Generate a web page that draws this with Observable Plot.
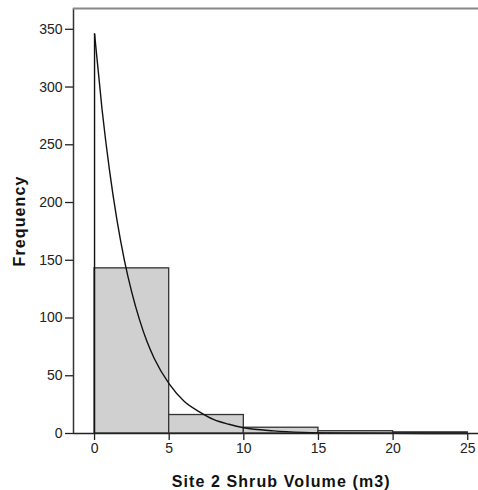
<!DOCTYPE html>
<html>
<head>
<meta charset="utf-8">
<script src="https://cdn.jsdelivr.net/npm/d3@7"></script>
<script src="https://cdn.jsdelivr.net/npm/@observablehq/plot@0.6"></script>
<style>
  html, body { margin: 0; padding: 0; background: #fff; }
  #chart svg { display: block; }
</style>
</head>
<body>
<div id="chart"></div>
<script>
// Histogram bins (m3) and frequencies
const binStart = [0, 5, 10, 15, 20];
const binEnd = [5, 10, 15, 20, 25];
const counts = [143, 16, 5, 2, 1];

// Fitted exponential curve, sampled along the x axis
const curveX = [0, 0.5, 1, 1.5, 2, 2.5, 3, 3.5, 4, 5, 6, 7, 8, 9, 10, 12, 14, 17, 20, 25];
const curveY = [346, 281, 228, 185, 150, 122, 99, 80, 65, 43, 28, 19, 12, 8, 5, 2.3, 1, 0.3, 0.1, 0];

// Axis ticks and titles
const xTicks = [0, 5, 10, 15, 20, 25];
const yTicks = [0, 50, 100, 150, 200, 250, 300, 350];
const xTitle = "Site 2 Shrub Volume (m3)";
const yTitle = "Frequency";

const bars = binStart.map((b, i) => ({x1: b, x2: binEnd[i], count: counts[i]}));
const curve = curveX.map((x, i) => ({x, y: curveY[i]}));

const xDomain = [-1.41, 25.72];
const yDomain = [0, 368];

const chart = Plot.plot({
  width: 478,
  height: 490,
  marginLeft: 73,
  marginRight: 0,
  marginTop: 8,
  marginBottom: 57,
  style: {fontFamily: "'Liberation Sans', Arial, sans-serif", fontSize: "14px", color: "#222", background: "#fff"},
  x: {domain: xDomain, label: null},
  y: {domain: yDomain, label: null},
  marks: [
    Plot.rectY(bars, {x1: "x1", x2: "x2", y: "count", fill: "#d0d0d0", stroke: "#333", strokeWidth: 1.3}),
    Plot.ruleX([curveX[0]], {y1: 0, y2: curveY[0], stroke: "#111", strokeWidth: 1.4}),
    Plot.line(curve, {x: "x", y: "y", curve: "monotone-x", stroke: "#111", strokeWidth: 1.4}),
    // frame: axis baseline, left edge and top edge
    Plot.ruleY([0], {stroke: "#222", strokeWidth: 1.5}),
    Plot.ruleX([xDomain[0]], {stroke: "#333", strokeWidth: 1.5}),
    Plot.ruleY([yDomain[1]], {stroke: "#888", strokeWidth: 2}),
    Plot.axisX({ticks: xTicks, tickSize: 7, tickPadding: 3, stroke: "#222", strokeWidth: 1.3, label: null, fill: "#222"}),
    Plot.axisY({ticks: yTicks, tickSize: 8, tickPadding: 3, stroke: "#222", strokeWidth: 1.3, label: null, fill: "#222"}),
    Plot.text([xTitle], {x: 12.5, y: 0, dy: 53, lineAnchor: "bottom", textAnchor: "middle", text: d => d, fontWeight: "bold", fontSize: 16, fill: "#111"}),
    Plot.text([yTitle], {frameAnchor: "left", dx: -53.5, rotate: -90, textAnchor: "middle", lineAnchor: "middle", text: d => d, fontWeight: "bold", fontSize: 16, fill: "#111"})
  ]
});

// Title spacing and tick label size
chart.querySelectorAll("text").forEach(t => {
  if (t.textContent === xTitle || t.textContent === yTitle) {
    t.setAttribute("letter-spacing", "1.1");
  } else {
    t.style.fontSize = "14px";
  }
});

document.getElementById("chart").append(chart);
</script>
</body>
</html>
